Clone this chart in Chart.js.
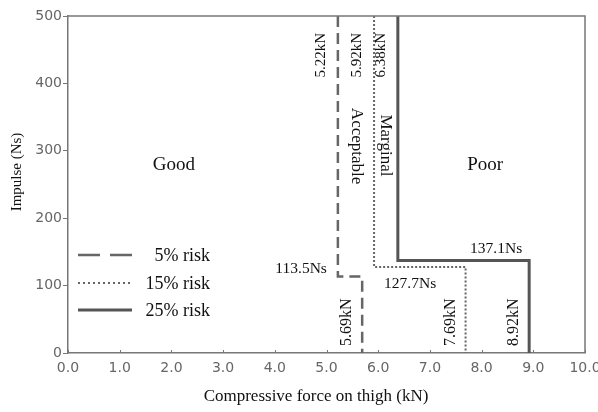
<!DOCTYPE html>
<html>
<head>
<meta charset="utf-8">
<script src="https://cdn.jsdelivr.net/npm/chart.js@4.4.1/dist/chart.umd.min.js"></script>
<style>
  html, body { margin: 0; padding: 0; background: #fff; }
  #wrap { width: 598px; height: 412px; position: relative; }
</style>
</head>
<body>
<div id="wrap"><canvas id="c" width="598" height="412"></canvas></div>
<script>
// Injury-risk boundaries for thigh loading: each curve runs down from the top
// of the plot at an upper force limit, steps across at a knee impulse, then
// drops to zero at a lower force limit.
const riskLabels   = ['5% risk', '15% risk', '25% risk'];
const upperForce   = [5.22, 5.92, 6.38];   // kN, limit above the knee
const kneeImpulse  = [113.5, 127.7, 137.1]; // Ns, where the curve steps
const lowerForce   = [5.69, 7.69, 8.92];   // kN, limit below the knee
const impulseMax   = 500;

const xTicks = [0, 1, 2, 3, 4, 5, 6, 7, 8, 9, 10];
const yTicks = [0, 100, 200, 300, 400, 500];

// Zone names and where they sit, in kN / Ns
const zoneNames = ['Good', 'Acceptable', 'Marginal', 'Poor'];
const zoneForce = [2.05, (upperForce[0] + upperForce[1]) / 2, (upperForce[1] + upperForce[2]) / 2, 8.07];
const zoneImpulse = [279, 307, 308, 279];

const lineStyles = [
  { color: '#666', width: 2.5, dash: [11, 6], legendDash: [22, 10] },
  { color: '#666', width: 2,   dash: [2, 2],  legendDash: [2, 3] },
  { color: '#555', width: 3,   dash: [],      legendDash: [] }
];

const datasets = riskLabels.map((label, i) => ({
  label,
  data: [
    { x: upperForce[i], y: impulseMax },
    { x: upperForce[i], y: kneeImpulse[i] },
    { x: lowerForce[i], y: kneeImpulse[i] },
    { x: lowerForce[i], y: 0 }
  ],
  showLine: true,
  borderColor: lineStyles[i].color,
  borderWidth: lineStyles[i].width,
  borderDash: lineStyles[i].dash,
  borderCapStyle: 'butt',
  borderJoinStyle: 'miter',
  pointRadius: 0,
  tension: 0,
  fill: false
}));

const SERIF = '"Liberation Serif", "Times New Roman", serif';
const SANS = '"DejaVu Sans", Verdana, sans-serif';

function text(ctx, str, x, y, opts) {
  ctx.save();
  ctx.translate(x, y);
  if (opts.rot) ctx.rotate(opts.rot);
  ctx.font = opts.font;
  ctx.fillStyle = opts.color || '#111';
  ctx.textAlign = opts.align || 'center';
  ctx.textBaseline = opts.baseline || 'middle';
  ctx.fillText(str, 0, 0);
  ctx.restore();
}

const decorations = {
  id: 'decorations',
  afterDraw(chart) {
    const { ctx, chartArea: a, scales: { x, y } } = chart;

    // top and right frame
    ctx.save();
    ctx.strokeStyle = '#777';
    ctx.lineWidth = 1.5;
    ctx.beginPath();
    ctx.moveTo(a.left, a.top);
    ctx.lineTo(a.right, a.top);
    ctx.lineTo(a.right, a.bottom);
    ctx.stroke();
    // short inward ticks along the force axis
    ctx.lineWidth = 1;
    xTicks.forEach(v => {
      const px = Math.round(x.getPixelForValue(v)) + 0.5;
      ctx.beginPath();
      ctx.moveTo(px, a.bottom);
      ctx.lineTo(px, a.bottom - 3);
      ctx.stroke();
    });
    ctx.restore();

    const up = -Math.PI / 2, down = Math.PI / 2;

    // force limits above the knee
    upperForce.forEach(v => {
      text(ctx, v.toFixed(2) + 'kN', x.getPixelForValue(v) - 17, a.top + 17,
        { rot: up, align: 'right', font: '15px ' + SERIF });
    });
    // force limits below the knee
    lowerForce.forEach(v => {
      text(ctx, v.toFixed(2) + 'kN', x.getPixelForValue(v) - 15, a.bottom - 7,
        { rot: up, align: 'left', font: '16px ' + SERIF });
    });

    // knee impulses
    const f = '15.5px ' + SERIF;
    text(ctx, kneeImpulse[0].toFixed(1) + 'Ns', x.getPixelForValue(upperForce[0]) - 11,
      y.getPixelForValue(kneeImpulse[0]) - 8, { align: 'right', font: f });
    text(ctx, kneeImpulse[1].toFixed(1) + 'Ns', x.getPixelForValue(upperForce[1]) + 10,
      y.getPixelForValue(kneeImpulse[1]) + 17, { align: 'left', font: f });
    text(ctx, kneeImpulse[2].toFixed(1) + 'Ns', x.getPixelForValue(lowerForce[2]) - 7,
      y.getPixelForValue(kneeImpulse[2]) - 12, { align: 'right', font: f });

    // zone names
    zoneNames.forEach((name, i) => {
      const vertical = name === 'Acceptable' || name === 'Marginal';
      text(ctx, name, x.getPixelForValue(zoneForce[i]), y.getPixelForValue(zoneImpulse[i]),
        { rot: vertical ? down : 0, font: (vertical ? '17px ' : '19px ') + SERIF });
    });

    // legend
    const rows = [255, 283, 310];
    riskLabels.forEach((label, i) => {
      const s = lineStyles[i];
      ctx.save();
      ctx.strokeStyle = s.color;
      ctx.lineWidth = s.width;
      ctx.setLineDash(s.legendDash);
      ctx.beginPath();
      ctx.moveTo(78, rows[i]);
      ctx.lineTo(132, rows[i]);
      ctx.stroke();
      ctx.restore();
      text(ctx, label, 210, rows[i] + 1, { align: 'right', font: '18px ' + SERIF });
    });

    // axis titles
    text(ctx, 'Impulse (Ns)', 17, 172, { rot: up, font: '15px ' + SERIF });
    text(ctx, 'Compressive force on thigh (kN)', 316, 397, { font: '17px ' + SERIF });
  }
};

new Chart(document.getElementById('c'), {
  type: 'scatter',
  data: { datasets },
  options: {
    responsive: false,
    animation: false,
    devicePixelRatio: 1,
    layout: { padding: { top: 16, right: 13, left: 0, bottom: 0 } },
    plugins: { legend: { display: false }, tooltip: { enabled: false } },
    scales: {
      x: {
        type: 'linear',
        min: 0, max: 10,
        afterBuildTicks: s => { s.ticks = xTicks.map(v => ({ value: v })); },
        afterFit: s => { s.height = 59; s.paddingLeft = 0; s.paddingRight = 0; },
        ticks: {
          padding: 7,
          color: '#666',
          font: { family: SANS, size: 14 },
          maxRotation: 0,
          autoSkip: false,
          callback: v => v.toFixed(1)
        },
        grid: { drawOnChartArea: false, drawTicks: false },
        border: { color: '#777', width: 1.5 }
      },
      y: {
        type: 'linear',
        min: 0, max: impulseMax,
        afterBuildTicks: s => { s.ticks = yTicks.map(v => ({ value: v })); },
        afterFit: s => { s.width = 68; s.paddingTop = 0; s.paddingBottom = 0; },
        ticks: {
          padding: 1,
          color: '#666',
          font: { family: SANS, size: 14 },
          callback: v => String(v)
        },
        grid: { drawOnChartArea: false, drawTicks: true, tickLength: 5, tickColor: '#777', tickWidth: 1 },
        border: { color: '#777', width: 1.5 }
      }
    }
  },
  plugins: [decorations]
});
</script>
</body>
</html>
